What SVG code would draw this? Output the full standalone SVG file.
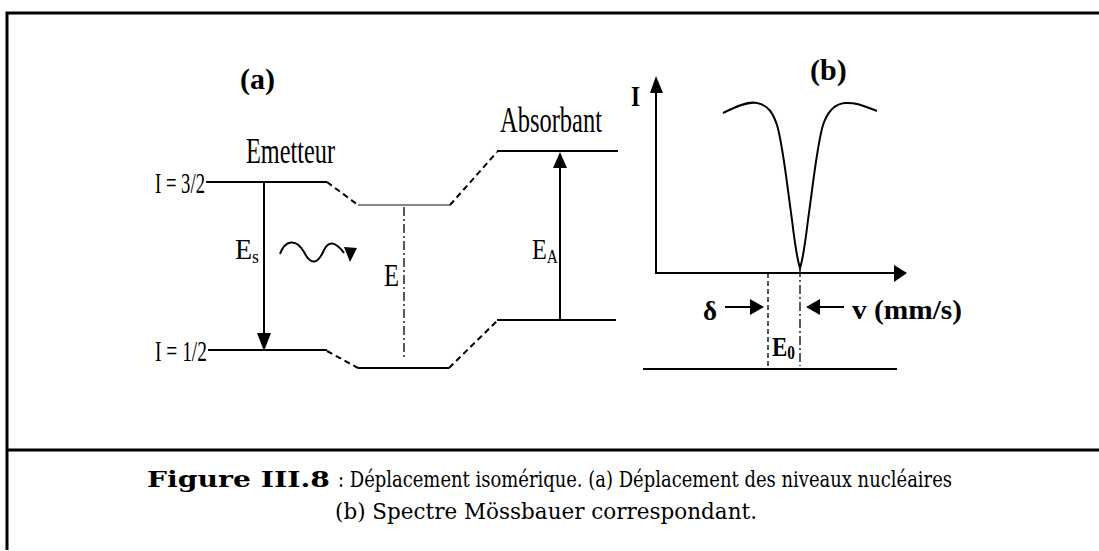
<svg xmlns="http://www.w3.org/2000/svg" width="1099" height="551" viewBox="0 0 1099 551">
<style>
.t{font-family:"Liberation Serif",serif;fill:#000}
.ln{stroke:#000;stroke-width:2;fill:none}
.ds{stroke:#000;stroke-width:2;fill:none;stroke-dasharray:6,4}
.dd{stroke:#000;stroke-width:1.3;fill:none;stroke-dasharray:9,3,2,3}
.dh{stroke:#000;stroke-width:1.3;fill:none;stroke-dasharray:5,3}
.cap{font-family:"DejaVu Serif","Liberation Serif",serif;font-size:22px;fill:#000}
</style>
<rect width="1099" height="551" fill="#fff"/>
<g id="frame">
<path d="M7,550 V13 H1099" stroke="#000" stroke-width="3" fill="none"/>
<line x1="7" y1="450" x2="1099" y2="450" stroke="#000" stroke-width="3"/>
</g>
<g id="panel-a">
<text class="t" x="240" y="89" font-size="30" font-weight="bold">(a)</text>
<g id="emetteur">
<text class="t" x="246" y="163" font-size="35" textLength="89" lengthAdjust="spacingAndGlyphs">Emetteur</text>
<text class="t" x="155" y="193" font-size="29" textLength="50" lengthAdjust="spacingAndGlyphs">I = 3/2</text>
<text class="t" x="155" y="361" font-size="29" textLength="52" lengthAdjust="spacingAndGlyphs">I = 1/2</text>
<line class="ln" x1="206" y1="182" x2="327" y2="182"/>
<line class="ln" x1="208" y1="350" x2="327" y2="350"/>
</g>
<g id="middle">
<line x1="358" y1="205" x2="450" y2="205" stroke="#888" stroke-width="2"/>
<line class="ln" x1="358" y1="368" x2="449" y2="368"/>
<text class="t" x="384" y="286" font-size="32" textLength="15" lengthAdjust="spacingAndGlyphs">E</text>
</g>
<g id="absorbant">
<text class="t" x="500" y="132" font-size="35" textLength="102" lengthAdjust="spacingAndGlyphs">Absorbant</text>
<line class="ln" x1="497" y1="151" x2="618" y2="151"/>
<line class="ln" x1="497" y1="320" x2="616" y2="320"/>
</g>
<g id="connectors-a">
<line class="ds" x1="327" y1="182" x2="358" y2="205"/>
<line class="ds" x1="327" y1="351" x2="358" y2="368"/>
<line class="ds" x1="450" y1="205" x2="497" y2="152"/>
<line class="ds" x1="449" y1="368" x2="497" y2="321"/>
<line class="ln" x1="264" y1="182" x2="264" y2="336"/>
<polygon points="257,333 271,333 264,351"/>
<line class="ln" x1="560" y1="320" x2="560" y2="165"/>
<polygon points="553,168 567,168 560,152"/>
<line class="dd" x1="404" y1="207" x2="404" y2="357"/>
<path class="ln" d="M280,254 C285,240 296,238 304,252 C311,266 318,264 324,250 C329,240 336,242 344,253"/>
<polygon points="344,247 357,248 350,262"/>
<text class="t" x="235" y="259" font-size="30" textLength="24" lengthAdjust="spacingAndGlyphs">E<tspan font-size="19" dy="4">s</tspan></text>
<text class="t" x="532" y="259" font-size="30" textLength="26" lengthAdjust="spacingAndGlyphs">E<tspan font-size="19" dy="4">A</tspan></text>
</g>
</g>
<g id="panel-b">
<text class="t" x="810" y="80" font-size="30" font-weight="bold">(b)</text>
<text class="t" x="631" y="106" font-size="30" font-weight="bold" textLength="9" lengthAdjust="spacingAndGlyphs">I</text>
<line class="ln" x1="656" y1="274" x2="656" y2="90"/>
<polygon points="650,93 663,93 656,76"/>
<line class="ln" x1="655" y1="273" x2="896" y2="273"/>
<polygon points="894,265 894,282 907,273"/>
<path class="ln" d="M723,113 C735,107 748,101 757,103 C768,105 773,113 777,125 C783,145 787,185 792,220 C795,245 798,262 800,268 C802,262 805,245 808,220 C813,185 817,145 823,125 C827,113 834,104 845,103 C856,102 866,107 877,111"/>
<line class="dh" x1="768" y1="273" x2="768" y2="366"/>
<line class="dd" x1="800" y1="268" x2="800" y2="366"/>
<line class="ln" x1="643" y1="369" x2="897" y2="369"/>
<line class="ln" x1="725" y1="307" x2="752" y2="307"/>
<polygon points="750,299 750,315 764,307"/>
<line class="ln" x1="818" y1="307" x2="844" y2="307"/>
<polygon points="820,299 820,315 806,307"/>
<text class="t" x="703" y="320" font-size="28" font-weight="bold" textLength="14" lengthAdjust="spacingAndGlyphs">δ</text>
<text class="t" x="852" y="319" font-size="28" font-weight="bold" textLength="110" lengthAdjust="spacingAndGlyphs">v (mm/s)</text>
<text class="t" x="772" y="356" font-size="27" font-weight="bold" textLength="23" lengthAdjust="spacingAndGlyphs">E<tspan font-size="18" dy="3">0</tspan></text>
</g>
<g id="caption">
<text class="cap" x="147" y="487" font-weight="bold" textLength="183" lengthAdjust="spacingAndGlyphs">Figure  III.8</text>
<text class="cap" x="338" y="487" textLength="614" lengthAdjust="spacingAndGlyphs">: Déplacement isomérique. (a) Déplacement des niveaux nucléaires</text>
<text class="cap" x="335" y="519" textLength="422" lengthAdjust="spacingAndGlyphs">(b) Spectre Mössbauer correspondant.</text>
</g>
</svg>
